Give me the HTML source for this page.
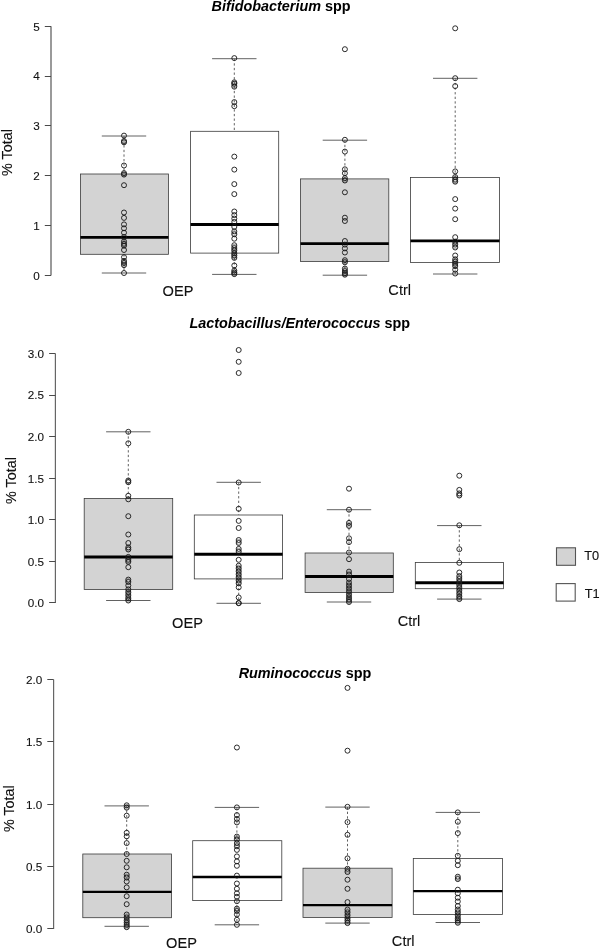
<!DOCTYPE html>
<html lang="en"><head><meta charset="utf-8"><title>Boxplots</title>
<style>html,body{margin:0;padding:0;background:#fff}svg{display:block}</style></head>
<body>
<svg width="600" height="949" viewBox="0 0 600 949" font-family="'Liberation Sans', sans-serif">
<rect width="600" height="949" fill="#fff"/>
<line x1="51.0" y1="26.2" x2="51.0" y2="275.5" stroke="#9a9a9a" stroke-width="2.0"/>
<line x1="44.8" y1="275.5" x2="51.0" y2="275.5" stroke="#4a4a4a" stroke-width="1"/>
<text x="39.8" y="279.8" font-size="11.7" text-anchor="end" fill="#111" stroke="#111" stroke-width="0.1">0</text>
<line x1="44.8" y1="225.5" x2="51.0" y2="225.5" stroke="#4a4a4a" stroke-width="1"/>
<text x="39.8" y="229.9" font-size="11.7" text-anchor="end" fill="#111" stroke="#111" stroke-width="0.1">1</text>
<line x1="44.8" y1="175.5" x2="51.0" y2="175.5" stroke="#4a4a4a" stroke-width="1"/>
<text x="39.8" y="180.1" font-size="11.7" text-anchor="end" fill="#111" stroke="#111" stroke-width="0.1">2</text>
<line x1="44.8" y1="125.5" x2="51.0" y2="125.5" stroke="#4a4a4a" stroke-width="1"/>
<text x="39.8" y="130.2" font-size="11.7" text-anchor="end" fill="#111" stroke="#111" stroke-width="0.1">3</text>
<line x1="44.8" y1="76.5" x2="51.0" y2="76.5" stroke="#4a4a4a" stroke-width="1"/>
<text x="39.8" y="80.4" font-size="11.7" text-anchor="end" fill="#111" stroke="#111" stroke-width="0.1">4</text>
<line x1="44.8" y1="26.5" x2="51.0" y2="26.5" stroke="#4a4a4a" stroke-width="1"/>
<text x="39.8" y="30.5" font-size="11.7" text-anchor="end" fill="#111" stroke="#111" stroke-width="0.1">5</text>
<text transform="translate(12.0,152.5) rotate(-90) scale(0.945,1)" font-size="15.2" text-anchor="middle" fill="#111" stroke="#111" stroke-width="0.12">% Total</text>
<line x1="55.4" y1="353.5" x2="55.4" y2="602.9" stroke="#666" stroke-width="1.2"/>
<line x1="49.1" y1="602.5" x2="55.4" y2="602.5" stroke="#4a4a4a" stroke-width="1"/>
<text x="44.1" y="607.2" font-size="11.7" text-anchor="end" fill="#111" stroke="#111" stroke-width="0.1">0.0</text>
<line x1="49.1" y1="561.5" x2="55.4" y2="561.5" stroke="#4a4a4a" stroke-width="1"/>
<text x="44.1" y="565.6" font-size="11.7" text-anchor="end" fill="#111" stroke="#111" stroke-width="0.1">0.5</text>
<line x1="49.1" y1="519.5" x2="55.4" y2="519.5" stroke="#4a4a4a" stroke-width="1"/>
<text x="44.1" y="524.1" font-size="11.7" text-anchor="end" fill="#111" stroke="#111" stroke-width="0.1">1.0</text>
<line x1="49.1" y1="478.5" x2="55.4" y2="478.5" stroke="#4a4a4a" stroke-width="1"/>
<text x="44.1" y="482.5" font-size="11.7" text-anchor="end" fill="#111" stroke="#111" stroke-width="0.1">1.5</text>
<line x1="49.1" y1="436.5" x2="55.4" y2="436.5" stroke="#4a4a4a" stroke-width="1"/>
<text x="44.1" y="440.9" font-size="11.7" text-anchor="end" fill="#111" stroke="#111" stroke-width="0.1">2.0</text>
<line x1="49.1" y1="395.5" x2="55.4" y2="395.5" stroke="#4a4a4a" stroke-width="1"/>
<text x="44.1" y="399.4" font-size="11.7" text-anchor="end" fill="#111" stroke="#111" stroke-width="0.1">2.5</text>
<line x1="49.1" y1="353.5" x2="55.4" y2="353.5" stroke="#4a4a4a" stroke-width="1"/>
<text x="44.1" y="357.8" font-size="11.7" text-anchor="end" fill="#111" stroke="#111" stroke-width="0.1">3.0</text>
<text transform="translate(16.3,480.5) rotate(-90) scale(0.945,1)" font-size="15.2" text-anchor="middle" fill="#111" stroke="#111" stroke-width="0.12">% Total</text>
<line x1="53.6" y1="679.5" x2="53.6" y2="928.9" stroke="#666" stroke-width="1.2"/>
<line x1="47.3" y1="928.5" x2="53.6" y2="928.5" stroke="#4a4a4a" stroke-width="1"/>
<text x="42.3" y="933.2" font-size="11.7" text-anchor="end" fill="#111" stroke="#111" stroke-width="0.1">0.0</text>
<line x1="47.3" y1="866.5" x2="53.6" y2="866.5" stroke="#4a4a4a" stroke-width="1"/>
<text x="42.3" y="870.8" font-size="11.7" text-anchor="end" fill="#111" stroke="#111" stroke-width="0.1">0.5</text>
<line x1="47.3" y1="804.5" x2="53.6" y2="804.5" stroke="#4a4a4a" stroke-width="1"/>
<text x="42.3" y="808.5" font-size="11.7" text-anchor="end" fill="#111" stroke="#111" stroke-width="0.1">1.0</text>
<line x1="47.3" y1="741.5" x2="53.6" y2="741.5" stroke="#4a4a4a" stroke-width="1"/>
<text x="42.3" y="746.1" font-size="11.7" text-anchor="end" fill="#111" stroke="#111" stroke-width="0.1">1.5</text>
<line x1="47.3" y1="679.5" x2="53.6" y2="679.5" stroke="#4a4a4a" stroke-width="1"/>
<text x="42.3" y="683.8" font-size="11.7" text-anchor="end" fill="#111" stroke="#111" stroke-width="0.1">2.0</text>
<text transform="translate(13.8,808.7) rotate(-90) scale(0.945,1)" font-size="15.2" text-anchor="middle" fill="#111" stroke="#111" stroke-width="0.12">% Total</text>
<line x1="124" y1="136" x2="124" y2="174" stroke="#3a3a3a" stroke-width="0.8" stroke-dasharray="2.3,2.3"/>
<line x1="124" y1="254.3" x2="124" y2="273" stroke="#3a3a3a" stroke-width="0.8" stroke-dasharray="2.3,2.3"/>
<line x1="101.8" y1="136" x2="146.2" y2="136" stroke="#3a3a3a" stroke-width="0.8"/>
<line x1="101.8" y1="273" x2="146.2" y2="273" stroke="#3a3a3a" stroke-width="0.8"/>
<rect x="80.4" y="174" width="88.0" height="80.3" fill="#d3d3d3" stroke="#3a3a3a" stroke-width="0.8"/>
<line x1="80.4" y1="237.3" x2="168.4" y2="237.3" stroke="#000" stroke-width="2.8"/>
<circle cx="124" cy="135.6" r="2.5" fill="none" stroke="#151515" stroke-width="0.9"/>
<circle cx="124" cy="141" r="2.5" fill="none" stroke="#151515" stroke-width="0.9"/>
<circle cx="124" cy="142.3" r="2.5" fill="none" stroke="#151515" stroke-width="0.9"/>
<circle cx="124" cy="165.5" r="2.5" fill="none" stroke="#151515" stroke-width="0.9"/>
<circle cx="124" cy="173.1" r="2.5" fill="none" stroke="#151515" stroke-width="0.9"/>
<circle cx="124" cy="174.6" r="2.5" fill="none" stroke="#151515" stroke-width="0.9"/>
<circle cx="124" cy="185.2" r="2.5" fill="none" stroke="#151515" stroke-width="0.9"/>
<circle cx="124" cy="212.5" r="2.5" fill="none" stroke="#151515" stroke-width="0.9"/>
<circle cx="124" cy="217.9" r="2.5" fill="none" stroke="#151515" stroke-width="0.9"/>
<circle cx="124" cy="224.4" r="2.5" fill="none" stroke="#151515" stroke-width="0.9"/>
<circle cx="124" cy="228.3" r="2.5" fill="none" stroke="#151515" stroke-width="0.9"/>
<circle cx="124" cy="232.7" r="2.5" fill="none" stroke="#151515" stroke-width="0.9"/>
<circle cx="124" cy="237" r="2.5" fill="none" stroke="#151515" stroke-width="0.9"/>
<circle cx="124" cy="241.3" r="2.5" fill="none" stroke="#151515" stroke-width="0.9"/>
<circle cx="124" cy="243.9" r="2.5" fill="none" stroke="#151515" stroke-width="0.9"/>
<circle cx="124" cy="245.7" r="2.5" fill="none" stroke="#151515" stroke-width="0.9"/>
<circle cx="124" cy="250" r="2.5" fill="none" stroke="#151515" stroke-width="0.9"/>
<circle cx="124" cy="257.2" r="2.5" fill="none" stroke="#151515" stroke-width="0.9"/>
<circle cx="124" cy="260.8" r="2.5" fill="none" stroke="#151515" stroke-width="0.9"/>
<circle cx="124" cy="263" r="2.5" fill="none" stroke="#151515" stroke-width="0.9"/>
<circle cx="124" cy="265.2" r="2.5" fill="none" stroke="#151515" stroke-width="0.9"/>
<circle cx="124" cy="273" r="2.5" fill="none" stroke="#151515" stroke-width="0.9"/>
<circle cx="124" cy="142.0" r="2.5" fill="none" stroke="#222" stroke-opacity="0.55" stroke-width="0.8"/>
<circle cx="124" cy="174.2" r="2.5" fill="none" stroke="#222" stroke-opacity="0.55" stroke-width="0.8"/>
<circle cx="124" cy="242.9" r="2.5" fill="none" stroke="#222" stroke-opacity="0.55" stroke-width="0.8"/>
<circle cx="124" cy="245.1" r="2.5" fill="none" stroke="#222" stroke-opacity="0.55" stroke-width="0.8"/>
<circle cx="124" cy="262.2" r="2.5" fill="none" stroke="#222" stroke-opacity="0.55" stroke-width="0.8"/>
<circle cx="124" cy="264.4" r="2.5" fill="none" stroke="#222" stroke-opacity="0.55" stroke-width="0.8"/>
<line x1="234.3" y1="58.7" x2="234.3" y2="131.3" stroke="#3a3a3a" stroke-width="0.8" stroke-dasharray="2.3,2.3"/>
<line x1="234.3" y1="253.1" x2="234.3" y2="274.4" stroke="#3a3a3a" stroke-width="0.8" stroke-dasharray="2.3,2.3"/>
<line x1="212.1" y1="58.7" x2="256.5" y2="58.7" stroke="#3a3a3a" stroke-width="0.8"/>
<line x1="212.1" y1="274.4" x2="256.5" y2="274.4" stroke="#3a3a3a" stroke-width="0.8"/>
<rect x="190.6" y="131.3" width="88.1" height="121.8" fill="#fff" stroke="#3a3a3a" stroke-width="0.8"/>
<line x1="190.6" y1="224.5" x2="278.7" y2="224.5" stroke="#000" stroke-width="2.8"/>
<circle cx="234.3" cy="58.1" r="2.5" fill="none" stroke="#151515" stroke-width="0.9"/>
<circle cx="234.3" cy="82.3" r="2.5" fill="none" stroke="#151515" stroke-width="0.9"/>
<circle cx="234.3" cy="83.8" r="2.5" fill="none" stroke="#151515" stroke-width="0.9"/>
<circle cx="234.3" cy="86.7" r="2.5" fill="none" stroke="#151515" stroke-width="0.9"/>
<circle cx="234.3" cy="102.1" r="2.5" fill="none" stroke="#151515" stroke-width="0.9"/>
<circle cx="234.3" cy="106.2" r="2.5" fill="none" stroke="#151515" stroke-width="0.9"/>
<circle cx="234.3" cy="156.6" r="2.5" fill="none" stroke="#151515" stroke-width="0.9"/>
<circle cx="234.3" cy="169.6" r="2.5" fill="none" stroke="#151515" stroke-width="0.9"/>
<circle cx="234.3" cy="184.1" r="2.5" fill="none" stroke="#151515" stroke-width="0.9"/>
<circle cx="234.3" cy="194.1" r="2.5" fill="none" stroke="#151515" stroke-width="0.9"/>
<circle cx="234.3" cy="211.5" r="2.5" fill="none" stroke="#151515" stroke-width="0.9"/>
<circle cx="234.3" cy="215.1" r="2.5" fill="none" stroke="#151515" stroke-width="0.9"/>
<circle cx="234.3" cy="218.6" r="2.5" fill="none" stroke="#151515" stroke-width="0.9"/>
<circle cx="234.3" cy="221.9" r="2.5" fill="none" stroke="#151515" stroke-width="0.9"/>
<circle cx="234.3" cy="226.9" r="2.5" fill="none" stroke="#151515" stroke-width="0.9"/>
<circle cx="234.3" cy="231.3" r="2.5" fill="none" stroke="#151515" stroke-width="0.9"/>
<circle cx="234.3" cy="234.3" r="2.5" fill="none" stroke="#151515" stroke-width="0.9"/>
<circle cx="234.3" cy="238.7" r="2.5" fill="none" stroke="#151515" stroke-width="0.9"/>
<circle cx="234.3" cy="245.2" r="2.5" fill="none" stroke="#151515" stroke-width="0.9"/>
<circle cx="234.3" cy="248.1" r="2.5" fill="none" stroke="#151515" stroke-width="0.9"/>
<circle cx="234.3" cy="250.5" r="2.5" fill="none" stroke="#151515" stroke-width="0.9"/>
<circle cx="234.3" cy="253.4" r="2.5" fill="none" stroke="#151515" stroke-width="0.9"/>
<circle cx="234.3" cy="255.5" r="2.5" fill="none" stroke="#151515" stroke-width="0.9"/>
<circle cx="234.3" cy="257.9" r="2.5" fill="none" stroke="#151515" stroke-width="0.9"/>
<circle cx="234.3" cy="265.5" r="2.5" fill="none" stroke="#151515" stroke-width="0.9"/>
<circle cx="234.3" cy="270.5" r="2.5" fill="none" stroke="#151515" stroke-width="0.9"/>
<circle cx="234.3" cy="272.6" r="2.5" fill="none" stroke="#151515" stroke-width="0.9"/>
<circle cx="234.3" cy="274.1" r="2.5" fill="none" stroke="#151515" stroke-width="0.9"/>
<circle cx="234.3" cy="83.3" r="2.5" fill="none" stroke="#222" stroke-opacity="0.55" stroke-width="0.8"/>
<circle cx="234.3" cy="85.5" r="2.5" fill="none" stroke="#222" stroke-opacity="0.55" stroke-width="0.8"/>
<circle cx="234.3" cy="233.1" r="2.5" fill="none" stroke="#222" stroke-opacity="0.55" stroke-width="0.8"/>
<circle cx="234.3" cy="246.9" r="2.5" fill="none" stroke="#222" stroke-opacity="0.55" stroke-width="0.8"/>
<circle cx="234.3" cy="249.6" r="2.5" fill="none" stroke="#222" stroke-opacity="0.55" stroke-width="0.8"/>
<circle cx="234.3" cy="252.2" r="2.5" fill="none" stroke="#222" stroke-opacity="0.55" stroke-width="0.8"/>
<circle cx="234.3" cy="254.8" r="2.5" fill="none" stroke="#222" stroke-opacity="0.55" stroke-width="0.8"/>
<circle cx="234.3" cy="257.0" r="2.5" fill="none" stroke="#222" stroke-opacity="0.55" stroke-width="0.8"/>
<circle cx="234.3" cy="271.9" r="2.5" fill="none" stroke="#222" stroke-opacity="0.55" stroke-width="0.8"/>
<circle cx="234.3" cy="273.7" r="2.5" fill="none" stroke="#222" stroke-opacity="0.55" stroke-width="0.8"/>
<line x1="344.9" y1="140.2" x2="344.9" y2="178.9" stroke="#3a3a3a" stroke-width="0.8" stroke-dasharray="2.3,2.3"/>
<line x1="344.9" y1="261.5" x2="344.9" y2="275.2" stroke="#3a3a3a" stroke-width="0.8" stroke-dasharray="2.3,2.3"/>
<line x1="322.7" y1="140.2" x2="367.1" y2="140.2" stroke="#3a3a3a" stroke-width="0.8"/>
<line x1="322.7" y1="275.2" x2="367.1" y2="275.2" stroke="#3a3a3a" stroke-width="0.8"/>
<rect x="300.5" y="178.9" width="88.3" height="82.6" fill="#d3d3d3" stroke="#3a3a3a" stroke-width="0.8"/>
<line x1="300.5" y1="243.7" x2="388.8" y2="243.7" stroke="#000" stroke-width="2.8"/>
<circle cx="344.9" cy="49.2" r="2.5" fill="none" stroke="#151515" stroke-width="0.9"/>
<circle cx="344.9" cy="139.8" r="2.5" fill="none" stroke="#151515" stroke-width="0.9"/>
<circle cx="344.9" cy="151.6" r="2.5" fill="none" stroke="#151515" stroke-width="0.9"/>
<circle cx="344.9" cy="169.3" r="2.5" fill="none" stroke="#151515" stroke-width="0.9"/>
<circle cx="344.9" cy="173.2" r="2.5" fill="none" stroke="#151515" stroke-width="0.9"/>
<circle cx="344.9" cy="178.2" r="2.5" fill="none" stroke="#151515" stroke-width="0.9"/>
<circle cx="344.9" cy="180.5" r="2.5" fill="none" stroke="#151515" stroke-width="0.9"/>
<circle cx="344.9" cy="192.3" r="2.5" fill="none" stroke="#151515" stroke-width="0.9"/>
<circle cx="344.9" cy="217.7" r="2.5" fill="none" stroke="#151515" stroke-width="0.9"/>
<circle cx="344.9" cy="221" r="2.5" fill="none" stroke="#151515" stroke-width="0.9"/>
<circle cx="344.9" cy="241" r="2.5" fill="none" stroke="#151515" stroke-width="0.9"/>
<circle cx="344.9" cy="244.6" r="2.5" fill="none" stroke="#151515" stroke-width="0.9"/>
<circle cx="344.9" cy="248.4" r="2.5" fill="none" stroke="#151515" stroke-width="0.9"/>
<circle cx="344.9" cy="252.5" r="2.5" fill="none" stroke="#151515" stroke-width="0.9"/>
<circle cx="344.9" cy="260.2" r="2.5" fill="none" stroke="#151515" stroke-width="0.9"/>
<circle cx="344.9" cy="262.3" r="2.5" fill="none" stroke="#151515" stroke-width="0.9"/>
<circle cx="344.9" cy="268.5" r="2.5" fill="none" stroke="#151515" stroke-width="0.9"/>
<circle cx="344.9" cy="271.1" r="2.5" fill="none" stroke="#151515" stroke-width="0.9"/>
<circle cx="344.9" cy="273.2" r="2.5" fill="none" stroke="#151515" stroke-width="0.9"/>
<circle cx="344.9" cy="274.7" r="2.5" fill="none" stroke="#151515" stroke-width="0.9"/>
<circle cx="344.9" cy="179.7" r="2.5" fill="none" stroke="#222" stroke-opacity="0.55" stroke-width="0.8"/>
<circle cx="344.9" cy="261.6" r="2.5" fill="none" stroke="#222" stroke-opacity="0.55" stroke-width="0.8"/>
<circle cx="344.9" cy="270.1" r="2.5" fill="none" stroke="#222" stroke-opacity="0.55" stroke-width="0.8"/>
<circle cx="344.9" cy="272.4" r="2.5" fill="none" stroke="#222" stroke-opacity="0.55" stroke-width="0.8"/>
<circle cx="344.9" cy="274.2" r="2.5" fill="none" stroke="#222" stroke-opacity="0.55" stroke-width="0.8"/>
<line x1="455.2" y1="78.3" x2="455.2" y2="177.4" stroke="#3a3a3a" stroke-width="0.8" stroke-dasharray="2.3,2.3"/>
<line x1="455.2" y1="262.4" x2="455.2" y2="274.0" stroke="#3a3a3a" stroke-width="0.8" stroke-dasharray="2.3,2.3"/>
<line x1="433.0" y1="78.3" x2="477.4" y2="78.3" stroke="#3a3a3a" stroke-width="0.8"/>
<line x1="433.0" y1="274.0" x2="477.4" y2="274.0" stroke="#3a3a3a" stroke-width="0.8"/>
<rect x="410.5" y="177.4" width="89.0" height="85.0" fill="#fff" stroke="#3a3a3a" stroke-width="0.8"/>
<line x1="410.5" y1="240.9" x2="499.5" y2="240.9" stroke="#000" stroke-width="2.8"/>
<circle cx="455.2" cy="28.3" r="2.5" fill="none" stroke="#151515" stroke-width="0.9"/>
<circle cx="455.2" cy="78.2" r="2.5" fill="none" stroke="#151515" stroke-width="0.9"/>
<circle cx="455.2" cy="86.1" r="2.5" fill="none" stroke="#151515" stroke-width="0.9"/>
<circle cx="455.2" cy="171.4" r="2.5" fill="none" stroke="#151515" stroke-width="0.9"/>
<circle cx="455.2" cy="177" r="2.5" fill="none" stroke="#151515" stroke-width="0.9"/>
<circle cx="455.2" cy="179.7" r="2.5" fill="none" stroke="#151515" stroke-width="0.9"/>
<circle cx="455.2" cy="181.7" r="2.5" fill="none" stroke="#151515" stroke-width="0.9"/>
<circle cx="455.2" cy="199.1" r="2.5" fill="none" stroke="#151515" stroke-width="0.9"/>
<circle cx="455.2" cy="208.6" r="2.5" fill="none" stroke="#151515" stroke-width="0.9"/>
<circle cx="455.2" cy="219.2" r="2.5" fill="none" stroke="#151515" stroke-width="0.9"/>
<circle cx="455.2" cy="237.2" r="2.5" fill="none" stroke="#151515" stroke-width="0.9"/>
<circle cx="455.2" cy="241.6" r="2.5" fill="none" stroke="#151515" stroke-width="0.9"/>
<circle cx="455.2" cy="244.6" r="2.5" fill="none" stroke="#151515" stroke-width="0.9"/>
<circle cx="455.2" cy="247.5" r="2.5" fill="none" stroke="#151515" stroke-width="0.9"/>
<circle cx="455.2" cy="255.5" r="2.5" fill="none" stroke="#151515" stroke-width="0.9"/>
<circle cx="455.2" cy="259.3" r="2.5" fill="none" stroke="#151515" stroke-width="0.9"/>
<circle cx="455.2" cy="261.7" r="2.5" fill="none" stroke="#151515" stroke-width="0.9"/>
<circle cx="455.2" cy="263.8" r="2.5" fill="none" stroke="#151515" stroke-width="0.9"/>
<circle cx="455.2" cy="266.1" r="2.5" fill="none" stroke="#151515" stroke-width="0.9"/>
<circle cx="455.2" cy="269.7" r="2.5" fill="none" stroke="#151515" stroke-width="0.9"/>
<circle cx="455.2" cy="273.5" r="2.5" fill="none" stroke="#151515" stroke-width="0.9"/>
<circle cx="455.2" cy="178.7" r="2.5" fill="none" stroke="#222" stroke-opacity="0.55" stroke-width="0.8"/>
<circle cx="455.2" cy="181.0" r="2.5" fill="none" stroke="#222" stroke-opacity="0.55" stroke-width="0.8"/>
<circle cx="455.2" cy="243.4" r="2.5" fill="none" stroke="#222" stroke-opacity="0.55" stroke-width="0.8"/>
<circle cx="455.2" cy="246.4" r="2.5" fill="none" stroke="#222" stroke-opacity="0.55" stroke-width="0.8"/>
<circle cx="455.2" cy="260.8" r="2.5" fill="none" stroke="#222" stroke-opacity="0.55" stroke-width="0.8"/>
<circle cx="455.2" cy="263.1" r="2.5" fill="none" stroke="#222" stroke-opacity="0.55" stroke-width="0.8"/>
<circle cx="455.2" cy="265.3" r="2.5" fill="none" stroke="#222" stroke-opacity="0.55" stroke-width="0.8"/>
<line x1="128.3" y1="431.8" x2="128.3" y2="498.5" stroke="#3a3a3a" stroke-width="0.8" stroke-dasharray="2.3,2.3"/>
<line x1="128.3" y1="589.6" x2="128.3" y2="600.5" stroke="#3a3a3a" stroke-width="0.8" stroke-dasharray="2.3,2.3"/>
<line x1="106.1" y1="431.8" x2="150.5" y2="431.8" stroke="#3a3a3a" stroke-width="0.8"/>
<line x1="106.1" y1="600.5" x2="150.5" y2="600.5" stroke="#3a3a3a" stroke-width="0.8"/>
<rect x="84.2" y="498.5" width="88.5" height="91.1" fill="#d3d3d3" stroke="#3a3a3a" stroke-width="0.8"/>
<line x1="84.2" y1="557.1" x2="172.7" y2="557.1" stroke="#000" stroke-width="3.0"/>
<circle cx="128.3" cy="431.8" r="2.5" fill="none" stroke="#151515" stroke-width="0.9"/>
<circle cx="128.3" cy="443.3" r="2.5" fill="none" stroke="#151515" stroke-width="0.9"/>
<circle cx="128.3" cy="480.5" r="2.5" fill="none" stroke="#151515" stroke-width="0.9"/>
<circle cx="128.3" cy="482.2" r="2.5" fill="none" stroke="#151515" stroke-width="0.9"/>
<circle cx="128.3" cy="495.8" r="2.5" fill="none" stroke="#151515" stroke-width="0.9"/>
<circle cx="128.3" cy="499.3" r="2.5" fill="none" stroke="#151515" stroke-width="0.9"/>
<circle cx="128.3" cy="516.2" r="2.5" fill="none" stroke="#151515" stroke-width="0.9"/>
<circle cx="128.3" cy="534.5" r="2.5" fill="none" stroke="#151515" stroke-width="0.9"/>
<circle cx="128.3" cy="543" r="2.5" fill="none" stroke="#151515" stroke-width="0.9"/>
<circle cx="128.3" cy="547.4" r="2.5" fill="none" stroke="#151515" stroke-width="0.9"/>
<circle cx="128.3" cy="549.5" r="2.5" fill="none" stroke="#151515" stroke-width="0.9"/>
<circle cx="128.3" cy="556.9" r="2.5" fill="none" stroke="#151515" stroke-width="0.9"/>
<circle cx="128.3" cy="559.8" r="2.5" fill="none" stroke="#151515" stroke-width="0.9"/>
<circle cx="128.3" cy="561.9" r="2.5" fill="none" stroke="#151515" stroke-width="0.9"/>
<circle cx="128.3" cy="567.2" r="2.5" fill="none" stroke="#151515" stroke-width="0.9"/>
<circle cx="128.3" cy="579.6" r="2.5" fill="none" stroke="#151515" stroke-width="0.9"/>
<circle cx="128.3" cy="582" r="2.5" fill="none" stroke="#151515" stroke-width="0.9"/>
<circle cx="128.3" cy="585.5" r="2.5" fill="none" stroke="#151515" stroke-width="0.9"/>
<circle cx="128.3" cy="589.3" r="2.5" fill="none" stroke="#151515" stroke-width="0.9"/>
<circle cx="128.3" cy="592.3" r="2.5" fill="none" stroke="#151515" stroke-width="0.9"/>
<circle cx="128.3" cy="595.2" r="2.5" fill="none" stroke="#151515" stroke-width="0.9"/>
<circle cx="128.3" cy="598.2" r="2.5" fill="none" stroke="#151515" stroke-width="0.9"/>
<circle cx="128.3" cy="600.5" r="2.5" fill="none" stroke="#151515" stroke-width="0.9"/>
<circle cx="128.3" cy="481.7" r="2.5" fill="none" stroke="#222" stroke-opacity="0.55" stroke-width="0.8"/>
<circle cx="128.3" cy="548.8" r="2.5" fill="none" stroke="#222" stroke-opacity="0.55" stroke-width="0.8"/>
<circle cx="128.3" cy="558.6" r="2.5" fill="none" stroke="#222" stroke-opacity="0.55" stroke-width="0.8"/>
<circle cx="128.3" cy="561.1" r="2.5" fill="none" stroke="#222" stroke-opacity="0.55" stroke-width="0.8"/>
<circle cx="128.3" cy="581.1" r="2.5" fill="none" stroke="#222" stroke-opacity="0.55" stroke-width="0.8"/>
<circle cx="128.3" cy="591.1" r="2.5" fill="none" stroke="#222" stroke-opacity="0.55" stroke-width="0.8"/>
<circle cx="128.3" cy="594.0" r="2.5" fill="none" stroke="#222" stroke-opacity="0.55" stroke-width="0.8"/>
<circle cx="128.3" cy="597.0" r="2.5" fill="none" stroke="#222" stroke-opacity="0.55" stroke-width="0.8"/>
<circle cx="128.3" cy="599.6" r="2.5" fill="none" stroke="#222" stroke-opacity="0.55" stroke-width="0.8"/>
<line x1="238.7" y1="482.3" x2="238.7" y2="515" stroke="#3a3a3a" stroke-width="0.8" stroke-dasharray="2.3,2.3"/>
<line x1="238.7" y1="578.9" x2="238.7" y2="603.3" stroke="#3a3a3a" stroke-width="0.8" stroke-dasharray="2.3,2.3"/>
<line x1="216.5" y1="482.3" x2="260.9" y2="482.3" stroke="#3a3a3a" stroke-width="0.8"/>
<line x1="216.5" y1="603.3" x2="260.9" y2="603.3" stroke="#3a3a3a" stroke-width="0.8"/>
<rect x="194.3" y="515" width="88.3" height="63.9" fill="#fff" stroke="#3a3a3a" stroke-width="0.8"/>
<line x1="194.3" y1="554.2" x2="282.6" y2="554.2" stroke="#000" stroke-width="3.0"/>
<circle cx="238.7" cy="350" r="2.5" fill="none" stroke="#151515" stroke-width="0.9"/>
<circle cx="238.7" cy="361.8" r="2.5" fill="none" stroke="#151515" stroke-width="0.9"/>
<circle cx="238.7" cy="373" r="2.5" fill="none" stroke="#151515" stroke-width="0.9"/>
<circle cx="238.7" cy="482.5" r="2.5" fill="none" stroke="#151515" stroke-width="0.9"/>
<circle cx="238.7" cy="508.8" r="2.5" fill="none" stroke="#151515" stroke-width="0.9"/>
<circle cx="238.7" cy="520.9" r="2.5" fill="none" stroke="#151515" stroke-width="0.9"/>
<circle cx="238.7" cy="528" r="2.5" fill="none" stroke="#151515" stroke-width="0.9"/>
<circle cx="238.7" cy="540" r="2.5" fill="none" stroke="#151515" stroke-width="0.9"/>
<circle cx="238.7" cy="543" r="2.5" fill="none" stroke="#151515" stroke-width="0.9"/>
<circle cx="238.7" cy="548.9" r="2.5" fill="none" stroke="#151515" stroke-width="0.9"/>
<circle cx="238.7" cy="551.9" r="2.5" fill="none" stroke="#151515" stroke-width="0.9"/>
<circle cx="238.7" cy="559.8" r="2.5" fill="none" stroke="#151515" stroke-width="0.9"/>
<circle cx="238.7" cy="565.7" r="2.5" fill="none" stroke="#151515" stroke-width="0.9"/>
<circle cx="238.7" cy="568.7" r="2.5" fill="none" stroke="#151515" stroke-width="0.9"/>
<circle cx="238.7" cy="571.6" r="2.5" fill="none" stroke="#151515" stroke-width="0.9"/>
<circle cx="238.7" cy="574.6" r="2.5" fill="none" stroke="#151515" stroke-width="0.9"/>
<circle cx="238.7" cy="577.5" r="2.5" fill="none" stroke="#151515" stroke-width="0.9"/>
<circle cx="238.7" cy="580.5" r="2.5" fill="none" stroke="#151515" stroke-width="0.9"/>
<circle cx="238.7" cy="583.4" r="2.5" fill="none" stroke="#151515" stroke-width="0.9"/>
<circle cx="238.7" cy="587.3" r="2.5" fill="none" stroke="#151515" stroke-width="0.9"/>
<circle cx="238.7" cy="597.5" r="2.5" fill="none" stroke="#151515" stroke-width="0.9"/>
<circle cx="238.7" cy="603.0" r="2.5" fill="none" stroke="#151515" stroke-width="0.9"/>
<circle cx="238.7" cy="603.2" r="2.5" fill="none" stroke="#151515" stroke-width="0.9"/>
<circle cx="238.7" cy="541.8" r="2.5" fill="none" stroke="#222" stroke-opacity="0.55" stroke-width="0.8"/>
<circle cx="238.7" cy="550.7" r="2.5" fill="none" stroke="#222" stroke-opacity="0.55" stroke-width="0.8"/>
<circle cx="238.7" cy="567.5" r="2.5" fill="none" stroke="#222" stroke-opacity="0.55" stroke-width="0.8"/>
<circle cx="238.7" cy="570.5" r="2.5" fill="none" stroke="#222" stroke-opacity="0.55" stroke-width="0.8"/>
<circle cx="238.7" cy="573.4" r="2.5" fill="none" stroke="#222" stroke-opacity="0.55" stroke-width="0.8"/>
<circle cx="238.7" cy="576.3" r="2.5" fill="none" stroke="#222" stroke-opacity="0.55" stroke-width="0.8"/>
<circle cx="238.7" cy="579.3" r="2.5" fill="none" stroke="#222" stroke-opacity="0.55" stroke-width="0.8"/>
<circle cx="238.7" cy="582.2" r="2.5" fill="none" stroke="#222" stroke-opacity="0.55" stroke-width="0.8"/>
<line x1="349" y1="509.7" x2="349" y2="553" stroke="#3a3a3a" stroke-width="0.8" stroke-dasharray="2.3,2.3"/>
<line x1="349" y1="592.6" x2="349" y2="602" stroke="#3a3a3a" stroke-width="0.8" stroke-dasharray="2.3,2.3"/>
<line x1="326.8" y1="509.7" x2="371.2" y2="509.7" stroke="#3a3a3a" stroke-width="0.8"/>
<line x1="326.8" y1="602" x2="371.2" y2="602" stroke="#3a3a3a" stroke-width="0.8"/>
<rect x="305.1" y="553" width="88.2" height="39.6" fill="#d3d3d3" stroke="#3a3a3a" stroke-width="0.8"/>
<line x1="305.1" y1="576.4" x2="393.3" y2="576.4" stroke="#000" stroke-width="3.0"/>
<circle cx="349" cy="488.7" r="2.5" fill="none" stroke="#151515" stroke-width="0.9"/>
<circle cx="349" cy="509.7" r="2.5" fill="none" stroke="#151515" stroke-width="0.9"/>
<circle cx="349" cy="522.9" r="2.5" fill="none" stroke="#151515" stroke-width="0.9"/>
<circle cx="349" cy="525.9" r="2.5" fill="none" stroke="#151515" stroke-width="0.9"/>
<circle cx="349" cy="538.3" r="2.5" fill="none" stroke="#151515" stroke-width="0.9"/>
<circle cx="349" cy="542.1" r="2.5" fill="none" stroke="#151515" stroke-width="0.9"/>
<circle cx="349" cy="552.5" r="2.5" fill="none" stroke="#151515" stroke-width="0.9"/>
<circle cx="349" cy="559.2" r="2.5" fill="none" stroke="#151515" stroke-width="0.9"/>
<circle cx="349" cy="571.6" r="2.5" fill="none" stroke="#151515" stroke-width="0.9"/>
<circle cx="349" cy="574.6" r="2.5" fill="none" stroke="#151515" stroke-width="0.9"/>
<circle cx="349" cy="579" r="2.5" fill="none" stroke="#151515" stroke-width="0.9"/>
<circle cx="349" cy="582.5" r="2.5" fill="none" stroke="#151515" stroke-width="0.9"/>
<circle cx="349" cy="585.5" r="2.5" fill="none" stroke="#151515" stroke-width="0.9"/>
<circle cx="349" cy="588.4" r="2.5" fill="none" stroke="#151515" stroke-width="0.9"/>
<circle cx="349" cy="591.4" r="2.5" fill="none" stroke="#151515" stroke-width="0.9"/>
<circle cx="349" cy="594.4" r="2.5" fill="none" stroke="#151515" stroke-width="0.9"/>
<circle cx="349" cy="597.3" r="2.5" fill="none" stroke="#151515" stroke-width="0.9"/>
<circle cx="349" cy="599.7" r="2.5" fill="none" stroke="#151515" stroke-width="0.9"/>
<circle cx="349" cy="602" r="2.5" fill="none" stroke="#151515" stroke-width="0.9"/>
<circle cx="349" cy="524.7" r="2.5" fill="none" stroke="#222" stroke-opacity="0.55" stroke-width="0.8"/>
<circle cx="349" cy="573.4" r="2.5" fill="none" stroke="#222" stroke-opacity="0.55" stroke-width="0.8"/>
<circle cx="349" cy="584.3" r="2.5" fill="none" stroke="#222" stroke-opacity="0.55" stroke-width="0.8"/>
<circle cx="349" cy="587.2" r="2.5" fill="none" stroke="#222" stroke-opacity="0.55" stroke-width="0.8"/>
<circle cx="349" cy="590.2" r="2.5" fill="none" stroke="#222" stroke-opacity="0.55" stroke-width="0.8"/>
<circle cx="349" cy="593.2" r="2.5" fill="none" stroke="#222" stroke-opacity="0.55" stroke-width="0.8"/>
<circle cx="349" cy="596.1" r="2.5" fill="none" stroke="#222" stroke-opacity="0.55" stroke-width="0.8"/>
<circle cx="349" cy="598.8" r="2.5" fill="none" stroke="#222" stroke-opacity="0.55" stroke-width="0.8"/>
<circle cx="349" cy="601.1" r="2.5" fill="none" stroke="#222" stroke-opacity="0.55" stroke-width="0.8"/>
<line x1="459.3" y1="525.6" x2="459.3" y2="562.5" stroke="#3a3a3a" stroke-width="0.8" stroke-dasharray="2.3,2.3"/>
<line x1="459.3" y1="588.7" x2="459.3" y2="599.1" stroke="#3a3a3a" stroke-width="0.8" stroke-dasharray="2.3,2.3"/>
<line x1="437.1" y1="525.6" x2="481.5" y2="525.6" stroke="#3a3a3a" stroke-width="0.8"/>
<line x1="437.1" y1="599.1" x2="481.5" y2="599.1" stroke="#3a3a3a" stroke-width="0.8"/>
<rect x="415.3" y="562.5" width="88.3" height="26.2" fill="#fff" stroke="#3a3a3a" stroke-width="0.8"/>
<line x1="415.3" y1="582.8" x2="503.6" y2="582.8" stroke="#000" stroke-width="3.0"/>
<circle cx="459.3" cy="475.7" r="2.5" fill="none" stroke="#151515" stroke-width="0.9"/>
<circle cx="459.3" cy="489.9" r="2.5" fill="none" stroke="#151515" stroke-width="0.9"/>
<circle cx="459.3" cy="493.4" r="2.5" fill="none" stroke="#151515" stroke-width="0.9"/>
<circle cx="459.3" cy="495.5" r="2.5" fill="none" stroke="#151515" stroke-width="0.9"/>
<circle cx="459.3" cy="525.3" r="2.5" fill="none" stroke="#151515" stroke-width="0.9"/>
<circle cx="459.3" cy="549.2" r="2.5" fill="none" stroke="#151515" stroke-width="0.9"/>
<circle cx="459.3" cy="562.8" r="2.5" fill="none" stroke="#151515" stroke-width="0.9"/>
<circle cx="459.3" cy="572.5" r="2.5" fill="none" stroke="#151515" stroke-width="0.9"/>
<circle cx="459.3" cy="576.1" r="2.5" fill="none" stroke="#151515" stroke-width="0.9"/>
<circle cx="459.3" cy="579" r="2.5" fill="none" stroke="#151515" stroke-width="0.9"/>
<circle cx="459.3" cy="582" r="2.5" fill="none" stroke="#151515" stroke-width="0.9"/>
<circle cx="459.3" cy="584.9" r="2.5" fill="none" stroke="#151515" stroke-width="0.9"/>
<circle cx="459.3" cy="587.9" r="2.5" fill="none" stroke="#151515" stroke-width="0.9"/>
<circle cx="459.3" cy="590.8" r="2.5" fill="none" stroke="#151515" stroke-width="0.9"/>
<circle cx="459.3" cy="593.8" r="2.5" fill="none" stroke="#151515" stroke-width="0.9"/>
<circle cx="459.3" cy="596.7" r="2.5" fill="none" stroke="#151515" stroke-width="0.9"/>
<circle cx="459.3" cy="599.1" r="2.5" fill="none" stroke="#151515" stroke-width="0.9"/>
<circle cx="459.3" cy="494.8" r="2.5" fill="none" stroke="#222" stroke-opacity="0.55" stroke-width="0.8"/>
<circle cx="459.3" cy="577.8" r="2.5" fill="none" stroke="#222" stroke-opacity="0.55" stroke-width="0.8"/>
<circle cx="459.3" cy="580.8" r="2.5" fill="none" stroke="#222" stroke-opacity="0.55" stroke-width="0.8"/>
<circle cx="459.3" cy="583.8" r="2.5" fill="none" stroke="#222" stroke-opacity="0.55" stroke-width="0.8"/>
<circle cx="459.3" cy="586.7" r="2.5" fill="none" stroke="#222" stroke-opacity="0.55" stroke-width="0.8"/>
<circle cx="459.3" cy="589.6" r="2.5" fill="none" stroke="#222" stroke-opacity="0.55" stroke-width="0.8"/>
<circle cx="459.3" cy="592.6" r="2.5" fill="none" stroke="#222" stroke-opacity="0.55" stroke-width="0.8"/>
<circle cx="459.3" cy="595.5" r="2.5" fill="none" stroke="#222" stroke-opacity="0.55" stroke-width="0.8"/>
<circle cx="459.3" cy="598.2" r="2.5" fill="none" stroke="#222" stroke-opacity="0.55" stroke-width="0.8"/>
<line x1="126.7" y1="805.9" x2="126.7" y2="854" stroke="#3a3a3a" stroke-width="0.8" stroke-dasharray="2.3,2.3"/>
<line x1="126.7" y1="917.7" x2="126.7" y2="926.3" stroke="#3a3a3a" stroke-width="0.8" stroke-dasharray="2.3,2.3"/>
<line x1="104.5" y1="805.9" x2="148.9" y2="805.9" stroke="#3a3a3a" stroke-width="0.8"/>
<line x1="104.5" y1="926.3" x2="148.9" y2="926.3" stroke="#3a3a3a" stroke-width="0.8"/>
<rect x="82.8" y="854" width="88.7" height="63.7" fill="#d3d3d3" stroke="#3a3a3a" stroke-width="0.8"/>
<line x1="82.8" y1="891.8" x2="171.5" y2="891.8" stroke="#000" stroke-width="2.3"/>
<circle cx="126.7" cy="805.3" r="2.5" fill="none" stroke="#151515" stroke-width="0.9"/>
<circle cx="126.7" cy="807.7" r="2.5" fill="none" stroke="#151515" stroke-width="0.9"/>
<circle cx="126.7" cy="815.7" r="2.5" fill="none" stroke="#151515" stroke-width="0.9"/>
<circle cx="126.7" cy="832.8" r="2.5" fill="none" stroke="#151515" stroke-width="0.9"/>
<circle cx="126.7" cy="836.3" r="2.5" fill="none" stroke="#151515" stroke-width="0.9"/>
<circle cx="126.7" cy="843.1" r="2.5" fill="none" stroke="#151515" stroke-width="0.9"/>
<circle cx="126.7" cy="854" r="2.5" fill="none" stroke="#151515" stroke-width="0.9"/>
<circle cx="126.7" cy="860.8" r="2.5" fill="none" stroke="#151515" stroke-width="0.9"/>
<circle cx="126.7" cy="867.3" r="2.5" fill="none" stroke="#151515" stroke-width="0.9"/>
<circle cx="126.7" cy="874.7" r="2.5" fill="none" stroke="#151515" stroke-width="0.9"/>
<circle cx="126.7" cy="877.6" r="2.5" fill="none" stroke="#151515" stroke-width="0.9"/>
<circle cx="126.7" cy="881.5" r="2.5" fill="none" stroke="#151515" stroke-width="0.9"/>
<circle cx="126.7" cy="887.4" r="2.5" fill="none" stroke="#151515" stroke-width="0.9"/>
<circle cx="126.7" cy="896.2" r="2.5" fill="none" stroke="#151515" stroke-width="0.9"/>
<circle cx="126.7" cy="904.2" r="2.5" fill="none" stroke="#151515" stroke-width="0.9"/>
<circle cx="126.7" cy="914.5" r="2.5" fill="none" stroke="#151515" stroke-width="0.9"/>
<circle cx="126.7" cy="917.5" r="2.5" fill="none" stroke="#151515" stroke-width="0.9"/>
<circle cx="126.7" cy="920.4" r="2.5" fill="none" stroke="#151515" stroke-width="0.9"/>
<circle cx="126.7" cy="922.8" r="2.5" fill="none" stroke="#151515" stroke-width="0.9"/>
<circle cx="126.7" cy="925.1" r="2.5" fill="none" stroke="#151515" stroke-width="0.9"/>
<circle cx="126.7" cy="927.2" r="2.5" fill="none" stroke="#151515" stroke-width="0.9"/>
<circle cx="126.7" cy="806.8" r="2.5" fill="none" stroke="#222" stroke-opacity="0.55" stroke-width="0.8"/>
<circle cx="126.7" cy="876.5" r="2.5" fill="none" stroke="#222" stroke-opacity="0.55" stroke-width="0.8"/>
<circle cx="126.7" cy="916.3" r="2.5" fill="none" stroke="#222" stroke-opacity="0.55" stroke-width="0.8"/>
<circle cx="126.7" cy="919.2" r="2.5" fill="none" stroke="#222" stroke-opacity="0.55" stroke-width="0.8"/>
<circle cx="126.7" cy="921.9" r="2.5" fill="none" stroke="#222" stroke-opacity="0.55" stroke-width="0.8"/>
<circle cx="126.7" cy="924.2" r="2.5" fill="none" stroke="#222" stroke-opacity="0.55" stroke-width="0.8"/>
<circle cx="126.7" cy="926.5" r="2.5" fill="none" stroke="#222" stroke-opacity="0.55" stroke-width="0.8"/>
<line x1="236.9" y1="807.4" x2="236.9" y2="840.7" stroke="#3a3a3a" stroke-width="0.8" stroke-dasharray="2.3,2.3"/>
<line x1="236.9" y1="900.6" x2="236.9" y2="924.8" stroke="#3a3a3a" stroke-width="0.8" stroke-dasharray="2.3,2.3"/>
<line x1="214.7" y1="807.4" x2="259.1" y2="807.4" stroke="#3a3a3a" stroke-width="0.8"/>
<line x1="214.7" y1="924.8" x2="259.1" y2="924.8" stroke="#3a3a3a" stroke-width="0.8"/>
<rect x="192.7" y="840.7" width="89.1" height="59.9" fill="#fff" stroke="#3a3a3a" stroke-width="0.8"/>
<line x1="192.7" y1="877" x2="281.8" y2="877" stroke="#000" stroke-width="2.3"/>
<circle cx="236.9" cy="747.5" r="2.5" fill="none" stroke="#151515" stroke-width="0.9"/>
<circle cx="236.9" cy="807.4" r="2.5" fill="none" stroke="#151515" stroke-width="0.9"/>
<circle cx="236.9" cy="815.1" r="2.5" fill="none" stroke="#151515" stroke-width="0.9"/>
<circle cx="236.9" cy="818.9" r="2.5" fill="none" stroke="#151515" stroke-width="0.9"/>
<circle cx="236.9" cy="822.4" r="2.5" fill="none" stroke="#151515" stroke-width="0.9"/>
<circle cx="236.9" cy="836.6" r="2.5" fill="none" stroke="#151515" stroke-width="0.9"/>
<circle cx="236.9" cy="839.6" r="2.5" fill="none" stroke="#151515" stroke-width="0.9"/>
<circle cx="236.9" cy="843.1" r="2.5" fill="none" stroke="#151515" stroke-width="0.9"/>
<circle cx="236.9" cy="846.3" r="2.5" fill="none" stroke="#151515" stroke-width="0.9"/>
<circle cx="236.9" cy="849.9" r="2.5" fill="none" stroke="#151515" stroke-width="0.9"/>
<circle cx="236.9" cy="856.4" r="2.5" fill="none" stroke="#151515" stroke-width="0.9"/>
<circle cx="236.9" cy="861.4" r="2.5" fill="none" stroke="#151515" stroke-width="0.9"/>
<circle cx="236.9" cy="865.8" r="2.5" fill="none" stroke="#151515" stroke-width="0.9"/>
<circle cx="236.9" cy="875.6" r="2.5" fill="none" stroke="#151515" stroke-width="0.9"/>
<circle cx="236.9" cy="883.5" r="2.5" fill="none" stroke="#151515" stroke-width="0.9"/>
<circle cx="236.9" cy="888.8" r="2.5" fill="none" stroke="#151515" stroke-width="0.9"/>
<circle cx="236.9" cy="893.3" r="2.5" fill="none" stroke="#151515" stroke-width="0.9"/>
<circle cx="236.9" cy="896.8" r="2.5" fill="none" stroke="#151515" stroke-width="0.9"/>
<circle cx="236.9" cy="901.2" r="2.5" fill="none" stroke="#151515" stroke-width="0.9"/>
<circle cx="236.9" cy="908.6" r="2.5" fill="none" stroke="#151515" stroke-width="0.9"/>
<circle cx="236.9" cy="911" r="2.5" fill="none" stroke="#151515" stroke-width="0.9"/>
<circle cx="236.9" cy="914.5" r="2.5" fill="none" stroke="#151515" stroke-width="0.9"/>
<circle cx="236.9" cy="919.8" r="2.5" fill="none" stroke="#151515" stroke-width="0.9"/>
<circle cx="236.9" cy="924.8" r="2.5" fill="none" stroke="#151515" stroke-width="0.9"/>
<circle cx="236.9" cy="838.4" r="2.5" fill="none" stroke="#222" stroke-opacity="0.55" stroke-width="0.8"/>
<circle cx="236.9" cy="845.0" r="2.5" fill="none" stroke="#222" stroke-opacity="0.55" stroke-width="0.8"/>
<circle cx="236.9" cy="910.1" r="2.5" fill="none" stroke="#222" stroke-opacity="0.55" stroke-width="0.8"/>
<line x1="347.5" y1="807.1" x2="347.5" y2="868.2" stroke="#3a3a3a" stroke-width="0.8" stroke-dasharray="2.3,2.3"/>
<line x1="347.5" y1="917.5" x2="347.5" y2="923.1" stroke="#3a3a3a" stroke-width="0.8" stroke-dasharray="2.3,2.3"/>
<line x1="325.3" y1="807.1" x2="369.7" y2="807.1" stroke="#3a3a3a" stroke-width="0.8"/>
<line x1="325.3" y1="923.1" x2="369.7" y2="923.1" stroke="#3a3a3a" stroke-width="0.8"/>
<rect x="303" y="868.2" width="89.1" height="49.3" fill="#d3d3d3" stroke="#3a3a3a" stroke-width="0.8"/>
<line x1="303" y1="905.1" x2="392.1" y2="905.1" stroke="#000" stroke-width="2.3"/>
<circle cx="347.5" cy="687.9" r="2.5" fill="none" stroke="#151515" stroke-width="0.9"/>
<circle cx="347.5" cy="750.7" r="2.5" fill="none" stroke="#151515" stroke-width="0.9"/>
<circle cx="347.5" cy="806.8" r="2.5" fill="none" stroke="#151515" stroke-width="0.9"/>
<circle cx="347.5" cy="822.1" r="2.5" fill="none" stroke="#151515" stroke-width="0.9"/>
<circle cx="347.5" cy="834.8" r="2.5" fill="none" stroke="#151515" stroke-width="0.9"/>
<circle cx="347.5" cy="858.4" r="2.5" fill="none" stroke="#151515" stroke-width="0.9"/>
<circle cx="347.5" cy="868.8" r="2.5" fill="none" stroke="#151515" stroke-width="0.9"/>
<circle cx="347.5" cy="872" r="2.5" fill="none" stroke="#151515" stroke-width="0.9"/>
<circle cx="347.5" cy="879.7" r="2.5" fill="none" stroke="#151515" stroke-width="0.9"/>
<circle cx="347.5" cy="888.8" r="2.5" fill="none" stroke="#151515" stroke-width="0.9"/>
<circle cx="347.5" cy="902.1" r="2.5" fill="none" stroke="#151515" stroke-width="0.9"/>
<circle cx="347.5" cy="909.5" r="2.5" fill="none" stroke="#151515" stroke-width="0.9"/>
<circle cx="347.5" cy="912.4" r="2.5" fill="none" stroke="#151515" stroke-width="0.9"/>
<circle cx="347.5" cy="915.4" r="2.5" fill="none" stroke="#151515" stroke-width="0.9"/>
<circle cx="347.5" cy="918.3" r="2.5" fill="none" stroke="#151515" stroke-width="0.9"/>
<circle cx="347.5" cy="920.7" r="2.5" fill="none" stroke="#151515" stroke-width="0.9"/>
<circle cx="347.5" cy="923.1" r="2.5" fill="none" stroke="#151515" stroke-width="0.9"/>
<circle cx="347.5" cy="870.7" r="2.5" fill="none" stroke="#222" stroke-opacity="0.55" stroke-width="0.8"/>
<circle cx="347.5" cy="911.2" r="2.5" fill="none" stroke="#222" stroke-opacity="0.55" stroke-width="0.8"/>
<circle cx="347.5" cy="914.2" r="2.5" fill="none" stroke="#222" stroke-opacity="0.55" stroke-width="0.8"/>
<circle cx="347.5" cy="917.1" r="2.5" fill="none" stroke="#222" stroke-opacity="0.55" stroke-width="0.8"/>
<circle cx="347.5" cy="919.8" r="2.5" fill="none" stroke="#222" stroke-opacity="0.55" stroke-width="0.8"/>
<circle cx="347.5" cy="922.2" r="2.5" fill="none" stroke="#222" stroke-opacity="0.55" stroke-width="0.8"/>
<line x1="457.8" y1="812.4" x2="457.8" y2="858.4" stroke="#3a3a3a" stroke-width="0.8" stroke-dasharray="2.3,2.3"/>
<line x1="457.8" y1="914.5" x2="457.8" y2="922.5" stroke="#3a3a3a" stroke-width="0.8" stroke-dasharray="2.3,2.3"/>
<line x1="435.6" y1="812.4" x2="480.0" y2="812.4" stroke="#3a3a3a" stroke-width="0.8"/>
<line x1="435.6" y1="922.5" x2="480.0" y2="922.5" stroke="#3a3a3a" stroke-width="0.8"/>
<rect x="413.3" y="858.4" width="89.1" height="56.1" fill="#fff" stroke="#3a3a3a" stroke-width="0.8"/>
<line x1="413.3" y1="891.2" x2="502.4" y2="891.2" stroke="#000" stroke-width="2.3"/>
<circle cx="457.8" cy="812.4" r="2.5" fill="none" stroke="#151515" stroke-width="0.9"/>
<circle cx="457.8" cy="821.8" r="2.5" fill="none" stroke="#151515" stroke-width="0.9"/>
<circle cx="457.8" cy="833.1" r="2.5" fill="none" stroke="#151515" stroke-width="0.9"/>
<circle cx="457.8" cy="855.8" r="2.5" fill="none" stroke="#151515" stroke-width="0.9"/>
<circle cx="457.8" cy="860.8" r="2.5" fill="none" stroke="#151515" stroke-width="0.9"/>
<circle cx="457.8" cy="865.2" r="2.5" fill="none" stroke="#151515" stroke-width="0.9"/>
<circle cx="457.8" cy="876.7" r="2.5" fill="none" stroke="#151515" stroke-width="0.9"/>
<circle cx="457.8" cy="879.1" r="2.5" fill="none" stroke="#151515" stroke-width="0.9"/>
<circle cx="457.8" cy="889.7" r="2.5" fill="none" stroke="#151515" stroke-width="0.9"/>
<circle cx="457.8" cy="893.3" r="2.5" fill="none" stroke="#151515" stroke-width="0.9"/>
<circle cx="457.8" cy="897.7" r="2.5" fill="none" stroke="#151515" stroke-width="0.9"/>
<circle cx="457.8" cy="901.5" r="2.5" fill="none" stroke="#151515" stroke-width="0.9"/>
<circle cx="457.8" cy="906" r="2.5" fill="none" stroke="#151515" stroke-width="0.9"/>
<circle cx="457.8" cy="909.5" r="2.5" fill="none" stroke="#151515" stroke-width="0.9"/>
<circle cx="457.8" cy="912.4" r="2.5" fill="none" stroke="#151515" stroke-width="0.9"/>
<circle cx="457.8" cy="915.4" r="2.5" fill="none" stroke="#151515" stroke-width="0.9"/>
<circle cx="457.8" cy="918.3" r="2.5" fill="none" stroke="#151515" stroke-width="0.9"/>
<circle cx="457.8" cy="920.7" r="2.5" fill="none" stroke="#151515" stroke-width="0.9"/>
<circle cx="457.8" cy="922.8" r="2.5" fill="none" stroke="#151515" stroke-width="0.9"/>
<circle cx="457.8" cy="878.2" r="2.5" fill="none" stroke="#222" stroke-opacity="0.55" stroke-width="0.8"/>
<circle cx="457.8" cy="911.2" r="2.5" fill="none" stroke="#222" stroke-opacity="0.55" stroke-width="0.8"/>
<circle cx="457.8" cy="914.2" r="2.5" fill="none" stroke="#222" stroke-opacity="0.55" stroke-width="0.8"/>
<circle cx="457.8" cy="917.1" r="2.5" fill="none" stroke="#222" stroke-opacity="0.55" stroke-width="0.8"/>
<circle cx="457.8" cy="919.8" r="2.5" fill="none" stroke="#222" stroke-opacity="0.55" stroke-width="0.8"/>
<circle cx="457.8" cy="922.0" r="2.5" fill="none" stroke="#222" stroke-opacity="0.55" stroke-width="0.8"/>
<text x="281.1" y="11" font-size="14.4" font-weight="bold" text-anchor="middle" fill="#000"><tspan font-style="italic">Bifidobacterium</tspan> spp</text>
<text x="299.8" y="328" font-size="14.4" font-weight="bold" text-anchor="middle" fill="#000"><tspan font-style="italic">Lactobacillus/Enterococcus</tspan> spp</text>
<text x="305" y="678" font-size="14.4" font-weight="bold" text-anchor="middle" fill="#000"><tspan font-style="italic">Ruminococcus</tspan> spp</text>
<text transform="translate(178,295.6) scale(1,1.06)" font-size="14.6" text-anchor="middle" fill="#111" stroke="#111" stroke-width="0.12">OEP</text>
<text transform="translate(399.7,294.5) scale(1,1.06)" font-size="14.6" text-anchor="middle" fill="#111" stroke="#111" stroke-width="0.12">Ctrl</text>
<text transform="translate(187.5,627.8) scale(1,1.06)" font-size="14.6" text-anchor="middle" fill="#111" stroke="#111" stroke-width="0.12">OEP</text>
<text transform="translate(409.0,626.0) scale(1,1.06)" font-size="14.6" text-anchor="middle" fill="#111" stroke="#111" stroke-width="0.12">Ctrl</text>
<text transform="translate(181.5,947.5) scale(1,1.06)" font-size="14.6" text-anchor="middle" fill="#111" stroke="#111" stroke-width="0.12">OEP</text>
<text transform="translate(403.2,946) scale(1,1.06)" font-size="14.6" text-anchor="middle" fill="#111" stroke="#111" stroke-width="0.12">Ctrl</text>
<rect x="556.5" y="547.8" width="19" height="17.5" fill="#d3d3d3" stroke="#555" stroke-width="1.1"/>
<rect x="556.2" y="583.6" width="19" height="17.5" fill="#fff" stroke="#555" stroke-width="1.1"/>
<text x="584.3" y="559.6" font-size="12.8" fill="#111" stroke="#111" stroke-width="0.12">T0</text>
<text x="584.8" y="598" font-size="12.8" fill="#111" stroke="#111" stroke-width="0.12">T1</text>
</svg>
</body></html>
